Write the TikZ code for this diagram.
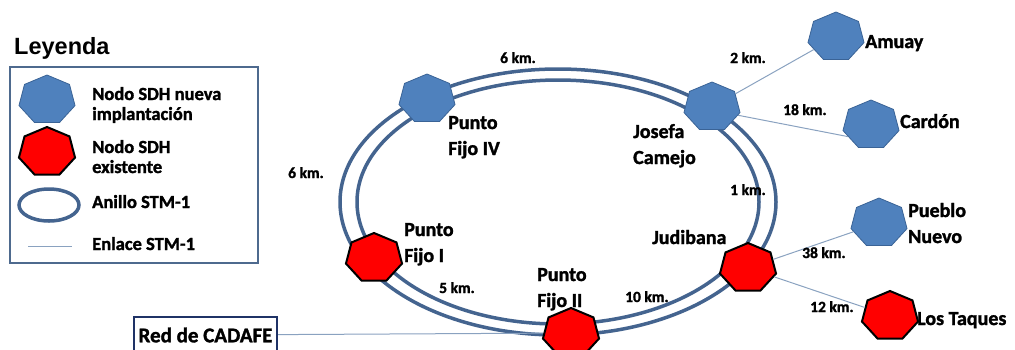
\documentclass[tikz,border=0pt]{standalone}
\usepackage{fontspec}
\setmainfont{Carlito}[BoldFeatures={FakeBold=1.5}]
\newfontfamily\titlefont{Liberation Sans}
\usetikzlibrary{shapes.geometric}
\definecolor{nodeblue}{HTML}{4F81BD}
\definecolor{nodeedge}{HTML}{3A6396}
\definecolor{ringblue}{HTML}{44648F}
\definecolor{linkblue}{HTML}{8AA2C0}
\definecolor{boxnavy}{HTML}{1F3266}
\definecolor{keygray}{HTML}{4E6A8E}

\begin{document}
\begin{tikzpicture}[x=1pt,y=-1pt]
\tikzstyle{newnode}=[regular polygon, regular polygon sides=7, minimum size=50pt, inner sep=0pt, xscale=1.15, fill=nodeblue, draw=nodeedge, line width=0.8pt]
\tikzstyle{oldnode}=[regular polygon, regular polygon sides=7, minimum size=50pt, inner sep=0pt, xscale=1.15, fill=red, draw=black, line width=2pt]
\tikzstyle{ring}=[draw=ringblue, line width=3.5pt]
\tikzstyle{link}=[draw=linkblue, line width=1pt]
\tikzstyle{site}=[anchor=base west, inner sep=0pt, align=left, font=\fontsize{20}{26}\selectfont\bfseries]
\tikzstyle{dist}=[anchor=base west, inner sep=0pt, font=\fontsize{15.5}{18}\selectfont\bfseries]
\tikzstyle{keytext}=[anchor=base west, inner sep=0pt, align=left, font=\fontsize{18.5}{20}\selectfont\bfseries]

\clip (0,0) rectangle (1015,349);

% Ring
\draw [ring] (558,202) ellipse [x radius=218, y radius=133];
\draw [ring] (558,202) ellipse [x radius=201, y radius=122];

% Ring nodes
\node at (427,99) [newnode] (fijo4) {};
\node at (712,107) [newnode] (josefa) {};
\node at (374,258) [oldnode] (fijo1) {};
\node at (571,333) [oldnode] (fijo2) {};
\node at (748,268) [oldnode] (judibana) {};

% Outer nodes
\node at (836,37) [newnode] (amuay) {};
\node at (871,125) [newnode] (cardon) {};
\node at (879,223) [newnode] (pueblo) {};
\node at (890,316) [oldnode] (taques) {};
\node at (205.5,335) [draw=boxnavy, line width=2pt, minimum width=143, minimum height=36, inner sep=0pt, font=\fontsize{21}{24}\selectfont\bfseries] (cadafe) {Red de CADAFE};

% Links
\draw [link] (josefa) -- (amuay);
\draw [link] (josefa.-20) -- (cardon.210);
\foreach \n in {pueblo,taques}
\draw [link] (judibana) -- (\n);
\draw [link] (cadafe) -- (fijo2);

% Text (base = last line)
\node at (448,155) [site] (t_fijo4) {Punto\\Fijo IV};
\node at (633,164) [site] (t_josefa) {Josefa\\Camejo};
\node at (404,262) [site] (t_fijo1) {Punto\\Fijo I};
\node at (537,307) [site] (t_fijo2) {Punto\\Fijo II};
\node at (652,244) [site] (t_judibana) {Judibana};
\node at (865,48) [site] (t_amuay) {Amuay};
\node at (900,128) [site] (t_cardon) {Cardón};
\node at (908,243) [site] (t_pueblo) {Pueblo\\Nuevo};
\node at (917,325) [site] (t_taques) {Los Taques};

% Distances
\node at (500,63) [dist] (d_top) {6 km.};
\node at (288,178) [dist] (d_left) {6 km.};
\node at (439,293) [dist] (d_five) {5 km.};
\node at (625,302) [dist] (d_ten) {10 km.};
\node at (730,63) [dist] (d_amuay) {2 km.};
\node at (783,115) [dist] (d_cardon) {18 km.};
\node at (730,195) [dist] (d_one) {1 km.};
\node at (802,258) [dist] (d_pueblo) {38 km.};
\node at (810,312) [dist] (d_taques) {12 km.};

% Legend
\node at (14,54) [anchor=base west, inner sep=0pt, font=\fontsize{23.5}{26}\titlefont\bfseries] (leyenda) {Leyenda};
\node at (134,165) [draw=keygray, line width=2.5pt, minimum width=248, minimum height=196] (keybox) {};
\node at (47,100) [newnode] (keynew) {};
\node at (47,152) [oldnode] (keyold) {};
\node at (49,205) [ring, ellipse, minimum width=60, minimum height=32] (keyring) {};
\coordinate (keylink_a) at (28,246);
\coordinate (keylink_b) at (72,246);
\draw [link] (keylink_a) -- (keylink_b);
\node at (92,120) [keytext] (k_new) {Nodo SDH nueva\\implantación};
\node at (92,173) [keytext] (k_old) {Nodo SDH\\existente};
\node at (92,208) [keytext] (k_ring) {Anillo STM-1};
\node at (92,250) [keytext] (k_link) {Enlace STM-1};
\end{tikzpicture}
\end{document}
